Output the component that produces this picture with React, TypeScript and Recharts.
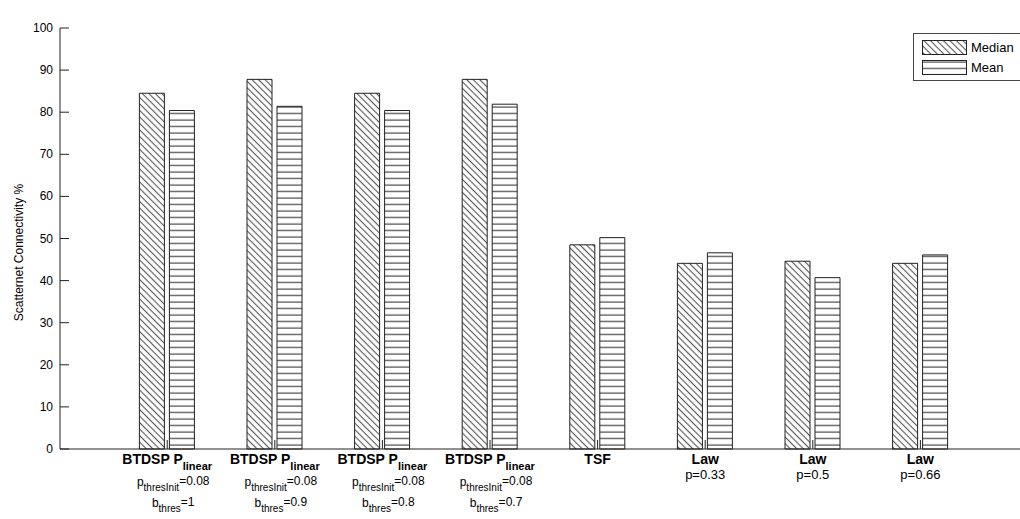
import { Bar, BarChart, Legend, XAxis, YAxis } from "recharts";

const categories = ["btdsp1", "btdsp09", "btdsp08", "btdsp07", "tsf", "law033", "law05", "law066"];
const methodNames = ["BTDSP P", "BTDSP P", "BTDSP P", "BTDSP P", "TSF", "Law", "Law", "Law"];
const methodSubs = ["linear", "linear", "linear", "linear", "", "", "", ""];
const pThresInit = ["0.08", "0.08", "0.08", "0.08", "", "", "", ""];
const bThres = ["1", "0.9", "0.8", "0.7", "", "", "", ""];
const lawP = ["", "", "", "", "", "0.33", "0.5", "0.66"];
const seriesNames = ["Median", "Mean"];
const medianValues = [84.5, 87.8, 84.5, 87.8, 48.5, 44.1, 44.6, 44.1];
const meanValues = [80.4, 81.4, 80.4, 81.9, 50.2, 46.6, 40.7, 46.1];
const yTicks = [0, 10, 20, 30, 40, 50, 60, 70, 80, 90, 100];

const data = categories.map((key, i) => ({
  key,
  median: medianValues[i],
  mean: meanValues[i],
}));

const FONT = "'Liberation Sans', Arial, sans-serif";
const INK = "#222";

// plot box edges (from the chart margins / axis sizes below)
const W = 1020;
const H = 519;
const TOP = 28;
const LEFT = 60;
const BOTTOM = H - 70;
const RIGHT = W;

function Patterns({ prefix }: { prefix: string }) {
  return (
    <defs>
      <pattern id={`${prefix}-diag`} width={4.6} height={10} patternUnits="userSpaceOnUse" patternTransform="rotate(-45)">
        <rect width={4.6} height={10} fill="#fff" />
        <line x1={2.3} y1={0} x2={2.3} y2={10} stroke="#555" strokeWidth={1.1} />
      </pattern>
      <pattern id={`${prefix}-horiz`} width={10} height={6.5} patternUnits="userSpaceOnUse">
        <rect width={10} height={6.5} fill="#fff" />
        <line x1={0} y1={3} x2={10} y2={3} stroke="#222" strokeWidth={1} />
      </pattern>
    </defs>
  );
}

function BottomTick({ x, payload }: any) {
  const i = payload.index;
  const y = BOTTOM;
  // matlab's tex labels drift a little to the right on the sub lines
  const sx = x + 6;
  return (
    <g fontFamily={FONT} fill="#000">
      <line x1={x} y1={y} x2={x} y2={y - 9} stroke={INK} />
      <text x={x} y={y + 15} textAnchor="middle" fontSize={14} fontWeight="bold" fill="#000">
        <tspan>{methodNames[i]}</tspan>
        {methodSubs[i] && (
          <tspan fontSize={11} dy={6}>
            {methodSubs[i]}
          </tspan>
        )}
      </text>
      {pThresInit[i] && (
        <text x={sx} y={y + 37} textAnchor="middle" fontSize={12} fill="#000">
          <tspan>p</tspan>
          <tspan fontSize={10} dy={5}>thresInit</tspan>
          <tspan dy={-6}>={pThresInit[i]}</tspan>
        </text>
      )}
      {bThres[i] && (
        <text x={sx} y={y + 58} textAnchor="middle" fontSize={12} fill="#000">
          <tspan>b</tspan>
          <tspan fontSize={10} dy={5}>thres</tspan>
          <tspan dy={-6}>={bThres[i]}</tspan>
        </text>
      )}
      {lawP[i] && (
        <text x={x} y={y + 30} textAnchor="middle" fontSize={13} fill="#000">
          p={lawP[i]}
        </text>
      )}
    </g>
  );
}

function TopTick({ x }: any) {
  return <line x1={x} y1={TOP} x2={x} y2={TOP + 9} stroke={INK} />;
}

function LeftTick({ y, payload }: any) {
  return (
    <g>
      <line x1={LEFT} y1={y} x2={LEFT + 9} y2={y} stroke={INK} />
      <text x={LEFT - 7} y={y + 4} textAnchor="end" fontSize={12} fontFamily={FONT} fill="#000">
        {payload.value}
      </text>
    </g>
  );
}

function RightTick({ y }: any) {
  return <line x1={RIGHT - 3} y1={y} x2={RIGHT} y2={y} stroke={INK} />;
}

function YLabel({ viewBox }: any) {
  const cx = 19;
  const cy = viewBox.y + viewBox.height / 2 + 14;
  return (
    <text x={cx} y={cy} transform={`rotate(-90 ${cx} ${cy})`} textAnchor="middle" dominantBaseline="central" fontSize={12} fontFamily={FONT} fill="#000">
      Scatternet Connectivity %
    </text>
  );
}

function Title() {
  return (
    <text x={533} y={16} textAnchor="middle" fontSize={10} fontFamily={FONT} fill="#000" textLength={134} lengthAdjust="spacingAndGlyphs">
      Multihop Connectivity % Comparison
    </text>
  );
}

function LegendBox() {
  return (
    <div style={{ width: 110, height: 48, background: "#fff", border: "1px solid #444", boxSizing: "border-box", position: "relative" }}>
      <svg width={110} height={48} style={{ position: "absolute", left: -1, top: -1 }}>
        <Patterns prefix="lg" />
        {seriesNames.map((name, i) => (
          <g key={name}>
            <rect x={9.5} y={7.5 + i * 20} width={44} height={14} fill={i === 0 ? "url(#lg-diag)" : "url(#lg-horiz)"} stroke={INK} />
            <text x={58} y={19 + i * 20} fontSize={13} fontFamily={FONT} fill="#000">
              {name}
            </text>
          </g>
        ))}
      </svg>
    </div>
  );
}

export default function App() {
  return (
    <div style={{ position: "absolute", left: 0, top: 0, width: W, height: H, background: "#fff" }}>
      <BarChart width={W} height={H} data={data} margin={{ top: TOP, right: 0, bottom: 0, left: 0 }} barSize={25} barGap={5}>
        <Patterns prefix="ch" />
        <XAxis xAxisId="bottom" dataKey="key" height={H - BOTTOM} interval={0} padding={{ left: 53.4, right: 45.8 }} axisLine={{ stroke: INK }} tickLine={false} tick={<BottomTick />} />
        <XAxis xAxisId="top" dataKey="key" orientation="top" height={0} interval={0} padding={{ left: 53.4, right: 45.8 }} axisLine={{ stroke: INK }} tickLine={false} tick={<TopTick />} label={{ content: <Title /> }} />
        <YAxis yAxisId="left" width={LEFT} domain={[0, 100]} ticks={yTicks} interval={0} axisLine={{ stroke: INK }} tickLine={false} tick={<LeftTick />} label={{ content: <YLabel /> }} />
        <YAxis yAxisId="right" orientation="right" width={0} domain={[0, 100]} ticks={yTicks} interval={0} axisLine={false} tickLine={false} tick={<RightTick />} />
        <Legend layout="vertical" align="center" verticalAlign="middle" content={<LegendBox />} wrapperStyle={{ position: "absolute", left: 913, top: 33, width: 110, height: 48 }} />
        <Bar xAxisId="bottom" yAxisId="left" dataKey="median" name={seriesNames[0]} fill="url(#ch-diag)" stroke={INK} strokeWidth={1} isAnimationActive={false} />
        <Bar xAxisId="bottom" yAxisId="left" dataKey="mean" name={seriesNames[1]} fill="url(#ch-horiz)" stroke={INK} strokeWidth={1} isAnimationActive={false} />
      </BarChart>
    </div>
  );
}
